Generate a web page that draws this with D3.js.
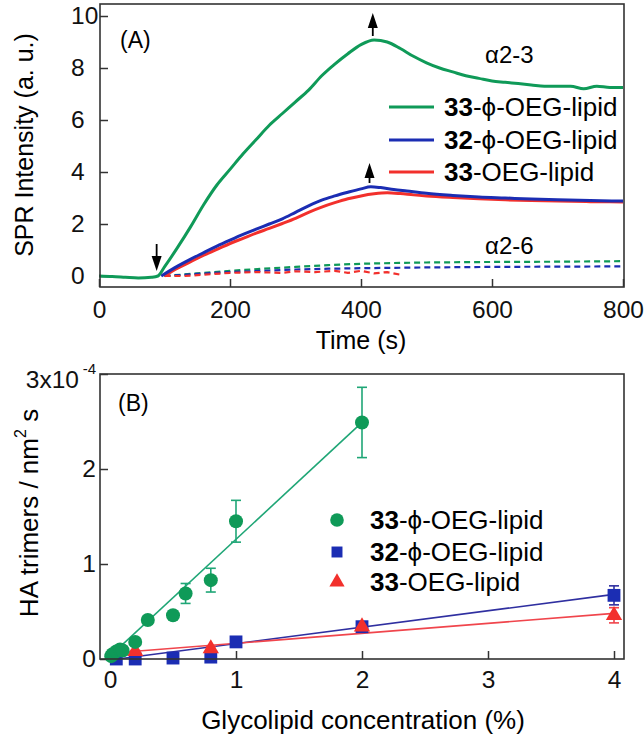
<!DOCTYPE html>
<html><head><meta charset="utf-8">
<script src="https://cdn.jsdelivr.net/npm/d3@7"></script>
<style>
html,body{margin:0;padding:0;background:#fff;}
svg{display:block;font-family:"Liberation Sans",Arial,sans-serif;}
</style></head>
<body><svg id="c" width="644" height="743"></svg>
<script>
// ---------- Panel A data ----------
const aTicksX = [0,200,400,600,800];
const aTicksY = [0,2,4,6,8,10];
const greenSolidT = [0,20,40,60,80,90,100,120,140,160,180,200,220,240,260,280,300,320,340,360,380,400,420,440,460,480,500,520,540,560,580,600,620,640,660,680,700,720,740,760,780,800];
const greenSolidV = [0.0,-0.02,-0.05,-0.08,-0.05,0.0,0.35,1.1,1.9,2.75,3.5,4.1,4.7,5.25,5.8,6.25,6.7,7.15,7.7,8.15,8.55,8.9,9.08,9.0,8.75,8.45,8.2,8.0,7.85,7.7,7.6,7.5,7.45,7.4,7.35,7.3,7.3,7.3,7.2,7.3,7.25,7.25];
const blueSolidT = [95,120,140,160,180,200,220,240,260,280,300,320,340,360,380,400,415,430,450,470,500,540,580,620,660,700,750,800];
const blueSolidV = [0.0,0.38,0.65,0.9,1.15,1.38,1.6,1.8,2.0,2.2,2.45,2.7,2.92,3.08,3.22,3.35,3.43,3.4,3.33,3.27,3.18,3.1,3.04,3.0,2.96,2.93,2.9,2.88];
const redSolidT = [100,120,140,160,180,200,220,240,260,280,300,320,340,360,380,400,420,440,460,480,500,540,580,620,660,700,750,800];
const redSolidV = [0.0,0.3,0.55,0.8,1.02,1.25,1.45,1.65,1.83,2.02,2.22,2.45,2.65,2.82,2.97,3.08,3.16,3.2,3.17,3.12,3.08,3.02,2.97,2.93,2.9,2.88,2.86,2.85];
const greenDashT = [100,150,200,250,300,350,400,450,500,600,700,800];
const greenDashV = [0.0,0.1,0.2,0.28,0.35,0.42,0.47,0.5,0.52,0.54,0.55,0.57];
const blueDashT = [100,150,200,250,300,350,400,500,600,700,800];
const blueDashV = [0.0,0.08,0.15,0.2,0.25,0.28,0.3,0.33,0.35,0.36,0.37];
const redDashT = [100,130,160,200,240,280,300,330,360,380,400,420,440,460];
const redDashV = [0.0,0.0,0.05,0.12,0.15,0.12,0.18,0.15,0.2,0.12,0.2,0.1,0.15,0.05];
const legendNamesBold = ["33","32","33"];
const legendNamesRest = ["-\u03d5-OEG-lipid","-\u03d5-OEG-lipid","-OEG-lipid"];

// ---------- Panel B data ----------
const bTicksX = [0,1,2,3,4];
const bTicksY = [0,1,2,3];
const concG = [0.01,0.02,0.05,0.08,0.1,0.2,0.3,0.5,0.6,0.8,1.0,2.0];
const valG  = [0.03,0.05,0.08,0.1,0.09,0.18,0.41,0.46,0.69,0.83,1.45,2.49];
const errG  = [0.01,0.01,0.02,0.02,0.02,0.03,0.04,0.04,0.105,0.125,0.22,0.37];
const concB = [0.05,0.2,0.5,0.8,1.0,2.0,4.0];
const valB  = [0.0,0.0,0.01,0.02,0.18,0.34,0.67];
const errB  = [0.0,0.0,0.0,0.0,0.02,0.03,0.1];
const concR = [0.2,0.8,2.0,4.0];
const valR  = [0.08,0.11,0.34,0.46];
const errR  = [0.01,0.02,0.03,0.08];
const fitG = [[0,0.03],[2,2.49]];
const fitB = [[0,-0.01],[4,0.68]];
const fitR = [[0.05,0.065],[4,0.48]];

const GREEN="#0f9a58", BLUE="#1b2db3", RED="#f2302c";
const GREENL="#1fa676", BLUEL="#2f2fa0", REDL="#f0454c";

const svg = d3.select("#c");
const FONT = 24.5;
const TITLE = 25;
const LEG = 26;

// ================= Panel A =================
const xA = d3.scaleLinear().domain([0,800]).range([99,623]);
const yA = d3.scaleLinear().domain([0,10]).range([276,16]);
const gA = svg.append("g");
const line = (x,y)=>d3.line().x(d=>x(d[0])).y(d=>y(d[1]));
const zip = (a,b)=>a.map((v,i)=>[v,b[i]]);

const axA = gA.append("g").attr("transform","translate(0,287)")
  .call(d3.axisBottom(xA).tickValues(aTicksX).tickSize(-8).tickPadding(14).tickFormat(d3.format("d")));
const ayA = gA.append("g").attr("transform","translate(100,0)")
  .call(d3.axisLeft(yA).tickValues(aTicksY).tickSize(-8).tickFormat(d3.format("d")));
ayA.selectAll("text").attr("text-anchor","start").attr("x",-29);
[axA,ayA].forEach(a=>{a.select(".domain").remove();
  a.selectAll("line").attr("stroke","#333").attr("stroke-width",1.5);
  a.selectAll("text").attr("font-size",FONT).attr("fill","#111").attr("font-family","Liberation Sans, Arial, sans-serif");});

const dash = [[greenDashT,greenDashV,GREEN],[blueDashT,blueDashV,BLUE],[redDashT,redDashV,RED]];
dash.forEach(([t,v,c])=>gA.append("path").datum(zip(t,v)).attr("d",line(xA,yA))
  .attr("fill","none").attr("stroke",c).attr("stroke-width",2.2).attr("stroke-dasharray","6,4"));
const solid = [[redSolidT,redSolidV,RED],[blueSolidT,blueSolidV,BLUE],[greenSolidT,greenSolidV,GREEN]];
solid.forEach(([t,v,c])=>gA.append("path").datum(zip(t,v)).attr("d",line(xA,yA).curve(d3.curveMonotoneX))
  .attr("fill","none").attr("stroke",c).attr("stroke-width",3).attr("stroke-linejoin","round"));

gA.append("rect").attr("x",100).attr("y",4).attr("width",524).attr("height",283)
  .attr("fill","none").attr("stroke","#333").attr("stroke-width",1.6);

function arrow(g,x,yTail,yTip){
  const dir = yTip>yTail?1:-1;
  const base = yTip - dir*15;
  g.append("line").attr("x1",x).attr("x2",x).attr("y1",yTail).attr("y2",base).attr("stroke","#000").attr("stroke-width",1.8);
  g.append("path").attr("d",`M${x},${yTip}L${x-5},${base}L${x+5},${base}Z`).attr("fill","#000");
}
arrow(gA,xA(88),244,271);
arrow(gA,xA(418),36,13);
arrow(gA,xA(413),183,163);

gA.append("text").attr("x",120).attr("y",48).attr("font-size",23).text("(A)");
gA.append("text").attr("x",485).attr("y",63).attr("font-size",24).text("\u03b12-3");
gA.append("text").attr("x",485).attr("y",254).attr("font-size",24).text("\u03b12-6");

const legA = [[GREEN,107],[BLUE,140],[RED,172]];
legA.forEach(([c,y],i)=>{
  gA.append("line").attr("x1",389).attr("x2",434).attr("y1",y).attr("y2",y).attr("stroke",c).attr("stroke-width",3.2);
  const t = gA.append("text").attr("x",444).attr("y",y+9).attr("font-size",LEG);
  t.append("tspan").attr("font-weight","bold").text(legendNamesBold[i]);
  t.append("tspan").text(legendNamesRest[i]);
});
gA.append("text").attr("x",361).attr("y",349).attr("text-anchor","middle").attr("font-size",TITLE).text("Time (s)");
gA.append("text").attr("transform","translate(33,145) rotate(-90)").attr("text-anchor","middle").attr("font-size",TITLE).text("SPR Intensity (a. u.)");

// ================= Panel B =================
const xB = d3.scaleLinear().domain([0,4]).range([110,614]);
const yB = d3.scaleLinear().domain([0,3]).range([659,374]);
const gB = svg.append("g");

const axB = gB.append("g").attr("transform","translate(0,659)")
  .call(d3.axisBottom(xB).tickValues(bTicksX).tickSize(-8).tickPadding(12).tickFormat(d3.format("d")));
const ayB = gB.append("g").attr("transform","translate(100,0)")
  .call(d3.axisLeft(yB).tickValues(bTicksY).tickSize(-8).tickPadding(4).tickFormat(d=>d===3?"3x10":d3.format("d")(d)));
ayB.selectAll("text").attr("x",-4);
ayB.selectAll(".tick").filter(d=>d===3).select("text").attr("x",-21).attr("dy","0.55em");
ayB.selectAll(".tick").filter(d=>d===3).append("text").attr("class","sup").attr("x",-4).attr("y",-1).attr("text-anchor","end")
  .text("-4");
[axB,ayB].forEach(a=>{a.select(".domain").remove();
  a.selectAll("line").attr("stroke","#333").attr("stroke-width",1.5);
  a.selectAll("text").attr("fill","#111").attr("font-size",FONT).attr("font-family","Liberation Sans, Arial, sans-serif");});
ayB.selectAll("text.sup").attr("font-size",15);

// fit lines
[[fitG,GREENL],[fitB,BLUEL],[fitR,REDL]].forEach(([f,c])=>gB.append("path").datum(f).attr("d",line(xB,yB))
  .attr("fill","none").attr("stroke",c).attr("stroke-width",1.6));

function errbars(xs,vs,es,c){
  xs.forEach((x,i)=>{ if(es[i]<=0) return;
    const px=xB(x), y1=yB(vs[i]-es[i]), y2=yB(vs[i]+es[i]);
    gB.append("line").attr("x1",px).attr("x2",px).attr("y1",y1).attr("y2",y2).attr("stroke",c).attr("stroke-width",1.6);
    [y1,y2].forEach(yy=>gB.append("line").attr("x1",px-5).attr("x2",px+5).attr("y1",yy).attr("y2",yy).attr("stroke",c).attr("stroke-width",1.6));
  });
}
errbars(concB,valB,errB,BLUEL);
errbars(concR,valR,errR,REDL);
errbars(concG,valG,errG,GREENL);

const symSq = d3.symbol().type(d3.symbolSquare).size(165);
const symTri = d3.symbol().type(d3.symbolTriangle).size(115);
gB.selectAll(".sq").data(zip(concB,valB)).join("path").attr("d",symSq)
  .attr("transform",d=>`translate(${xB(d[0])},${yB(d[1])})`).attr("fill",BLUE);
gB.selectAll(".tri").data(zip(concR,valR)).join("path").attr("d",symTri)
  .attr("transform",d=>`translate(${xB(d[0])},${yB(d[1])})`).attr("fill",RED);
gB.selectAll(".ci").data(zip(concG,valG)).join("circle").attr("r",7)
  .attr("cx",d=>xB(d[0])).attr("cy",d=>yB(d[1])).attr("fill",GREEN);

gB.append("rect").attr("x",100).attr("y",374).attr("width",524).attr("height",285)
  .attr("fill","none").attr("stroke","#333").attr("stroke-width",1.6);

gB.append("text").attr("x",118).attr("y",411).attr("font-size",23).text("(B)");

const legB = [520,552,582];
legB.forEach((y,i)=>{
  if(i===0) gB.append("circle").attr("cx",337).attr("cy",y).attr("r",6.8).attr("fill",GREEN);
  if(i===1) gB.append("path").attr("d",d3.symbol().type(d3.symbolSquare).size(120)).attr("transform",`translate(337,${y})`).attr("fill",BLUE);
  if(i===2) gB.append("path").attr("d",d3.symbol().type(d3.symbolTriangle).size(100)).attr("transform",`translate(337,${y})`).attr("fill",RED);
  const t = gB.append("text").attr("x",370).attr("y",y+9).attr("font-size",LEG);
  t.append("tspan").attr("font-weight","bold").text(legendNamesBold[i]);
  t.append("tspan").text(legendNamesRest[i]);
});

gB.append("text").attr("x",363).attr("y",729).attr("text-anchor","middle").attr("font-size",TITLE+1).text("Glycolipid concentration (%)");
const yl = gB.append("text").attr("transform","translate(38,513) rotate(-90)").attr("text-anchor","middle").attr("font-size",TITLE+1);
yl.append("tspan").text("HA trimers / nm");
yl.append("tspan").attr("dy",-12).attr("font-size",16).text("2");
yl.append("tspan").attr("dy",12).text(" s");
</script></body></html>
